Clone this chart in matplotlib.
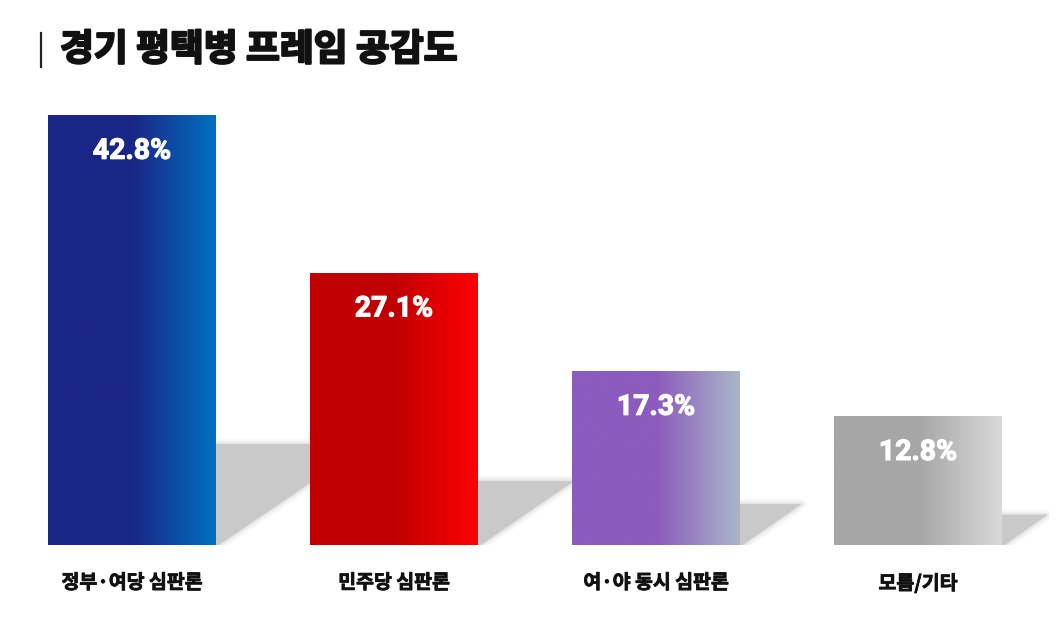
import numpy as np
import matplotlib
matplotlib.use("Agg")
import matplotlib.pyplot as plt
import matplotlib.patheffects as pe
from matplotlib.patches import Polygon
from matplotlib.lines import Line2D
from matplotlib.colors import to_rgb

title = "경기 평택병 프레임 공감도"
categories = ["정부·여당 심판론", "민주당 심판론", "여·야 동시 심판론", "모름/기타"]
values = [42.8, 27.1, 17.3, 12.8]
left_colors = ["#1a2686", "#c00000", "#8b5bbd", "#a6a6a6"]
right_colors = ["#0070c0", "#ff0000", "#aab6c8", "#d9d9d9"]

W, H = 1062, 622
fig = plt.figure(figsize=(W / 100, H / 100), dpi=100)
fig.patch.set_facecolor("white")

# axes placed so that bars land where they sit in the reference
ax = fig.add_axes([1 / W, 77 / H, 1048 / W, 502 / H])
ax.set_xlim(-0.5, 3.5)
ax.set_ylim(0, 50)
ax.axis("off")

bar_w = 0.641
px_per_x = 1048 / 4
px_per_y = 502 / 50


def gradient(c1, c2, n=200):
    c1, c2 = np.array(to_rgb(c1)), np.array(to_rgb(c2))
    t = np.linspace(0, 1, n)
    t = np.clip((t - 0.5) / 0.5, 0, 1)
    return (c1[None, :] * (1 - t[:, None]) + c2[None, :] * t[:, None])[None, :, :]


def thick(color, lw):
    return [pe.withStroke(linewidth=lw, foreground=color)]


for i, v in enumerate(values):
    x0, x1 = i - bar_w / 2, i + bar_w / 2

    # soft shadow behind the bar
    sh = 0.235 * v
    sw = 1.5 * sh * px_per_y / px_per_x
    verts = [(x1 - 0.01, 0), (x1 - 0.01, sh), (x1 + sw, sh), (x1 + 0.01, 0)]
    for lw, a in [(8, 0.1), (5, 0.15), (2.5, 0.25)]:
        ax.add_patch(Polygon(verts, closed=True, facecolor="#c9c9c9",
                             edgecolor="#c9c9c9", lw=lw, alpha=a,
                             joinstyle="round", zorder=1))
    ax.add_patch(Polygon(verts, closed=True, facecolor="#c9c9c9",
                         edgecolor="none", zorder=1))

    rect = ax.bar(i, v, width=bar_w, color="none", edgecolor="none", zorder=3)[0]
    im = ax.imshow(gradient(left_colors[i], right_colors[i]),
                   extent=[x0, x1, 0, v], aspect="auto", zorder=2,
                   interpolation="bilinear")
    im.set_clip_path(rect)

    ax.annotate(f"{v}%", (i, v), xytext=(0, -36), textcoords="offset pixels",
                ha="center", va="center", color="white", fontsize=20.5,
                fontweight="bold", family=["Roboto", "DejaVu Sans"], zorder=4,
                path_effects=thick("white", 0.8))

    ax.annotate(categories[i], (i, 0), xytext=(0, -38), textcoords="offset pixels",
                ha="center", va="center", color="#111111", fontsize=14,
                fontweight="bold", family=["Noto Sans CJK KR", "DejaVu Sans"],
                annotation_clip=False, path_effects=thick("#111111", 0.6))

ax.set_xlim(-0.5, 3.5)
ax.set_ylim(0, 50)

fig.text(60 / W, 1 - 50 / H, title, ha="left", va="center", fontsize=26.5,
         fontweight="black", color="#111111",
         family=["Noto Sans CJK KR", "DejaVu Sans"],
         path_effects=thick("#111111", 1.6))
fig.add_artist(Line2D([41 / W, 41 / W], [1 - 33 / H, 1 - 67 / H],
                      color="#222222", lw=1.6, transform=fig.transFigure))

fig.savefig("out.png", dpi=100, facecolor="white")
